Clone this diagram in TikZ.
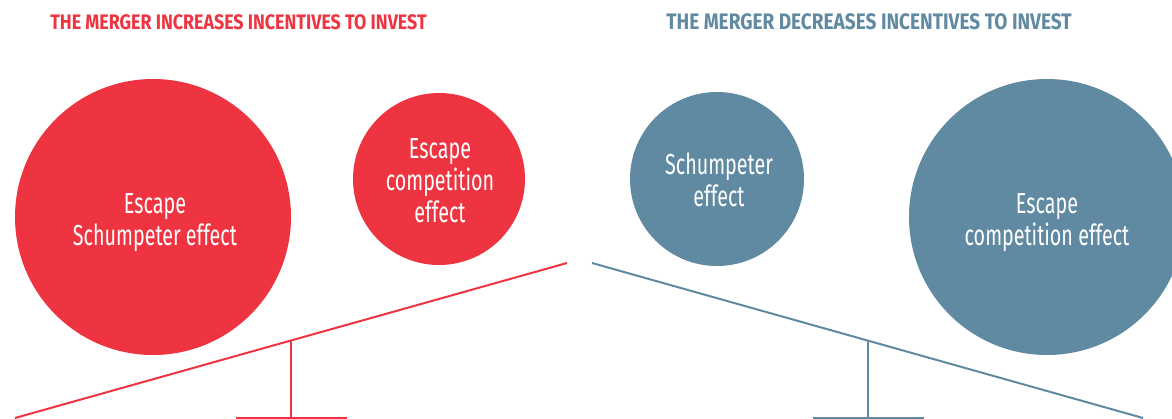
\documentclass[tikz,border=0pt]{standalone}
\usepackage{fontspec}
\usetikzlibrary{calc}
\newfontfamily\headfont[FakeStretch=0.85]{Fira Sans}
\newfontfamily\bubblefont[FakeStretch=0.68]{Fira Sans}
\definecolor{mergerred}{RGB}{238,52,64}
\definecolor{mergerblue}{RGB}{96,138,162}
\tikzset{
	bubble/.style={circle, fill=#1, inner sep=0pt},
	bubbletext/.style={text=white, align=center, inner sep=0pt, font=\bubblefont\fontsize{29}{32}\selectfont},
	heading/.style={text=#1, inner sep=0pt, font=\headfont\bfseries\fontsize{21}{24}\selectfont},
	beam/.style={draw=#1, line width=2pt},
}
\begin{document}
\begin{tikzpicture}[x=1pt,y=-1pt]
			\useasboundingbox (0,0) rectangle (1172,418);
			\node[heading=mergerred] (up) at (238.5,22) {THE MERGER INCREASES INCENTIVES TO INVEST};
			\node[heading=mergerblue, font=\headfont\bfseries\fontsize{22.4}{24}\selectfont] (down) at (869,22) {THE MERGER DECREASES INCENTIVES TO INVEST};
			\node[bubble=mergerred, minimum size=276pt] (ES) at (153,217) {};
			\node[bubble=mergerred, minimum size=172pt] (EC) at (439,179) {};
			\node[bubble=mergerblue, minimum size=174pt] (S) at (717,179) {};
			\node[bubble=mergerblue, minimum size=276pt] (C) at (1047,217) {};
			\node[bubbletext] (EStext) at ($(ES)+(2,6)$) {Escape\\Schumpeter effect};
			\node[bubbletext] (ECtext) at ($(EC)+(1,2)$) {Escape\\competition\\effect};
			\node[bubbletext] (Stext) at ($(S)+(2,1)$) {Schumpeter\\effect};
			\node[bubbletext] (Ctext) at ($(C)+(0,6)$) {Escape\\competition effect};
			\coordinate (RL) at (15,418);
			\coordinate (RR) at (567,263);
			\coordinate (RP) at ($(RL)!.5!(RR)$);
			\coordinate (RB) at (291,417.5);
			\draw[beam=mergerred] (RL) -- (RR);
			\draw[beam=mergerred] (RP) -- (RB);
			\draw[beam=mergerred] ([xshift=-55pt]RB) -- ([xshift=56pt]RB);
			\coordinate (BL) at (592,263);
			\coordinate (BR) at (1143,418);
			\coordinate (BP) at ($(BL)!.5!(BR)$);
			\coordinate (BB) at (867.5,417.5);
			\draw[beam=mergerblue] (BL) -- (BR);
			\draw[beam=mergerblue] (BP) -- (BB);
			\draw[beam=mergerblue] ([xshift=-55pt]BB) -- ([xshift=56pt]BB);
		\end{tikzpicture}
\end{document}
